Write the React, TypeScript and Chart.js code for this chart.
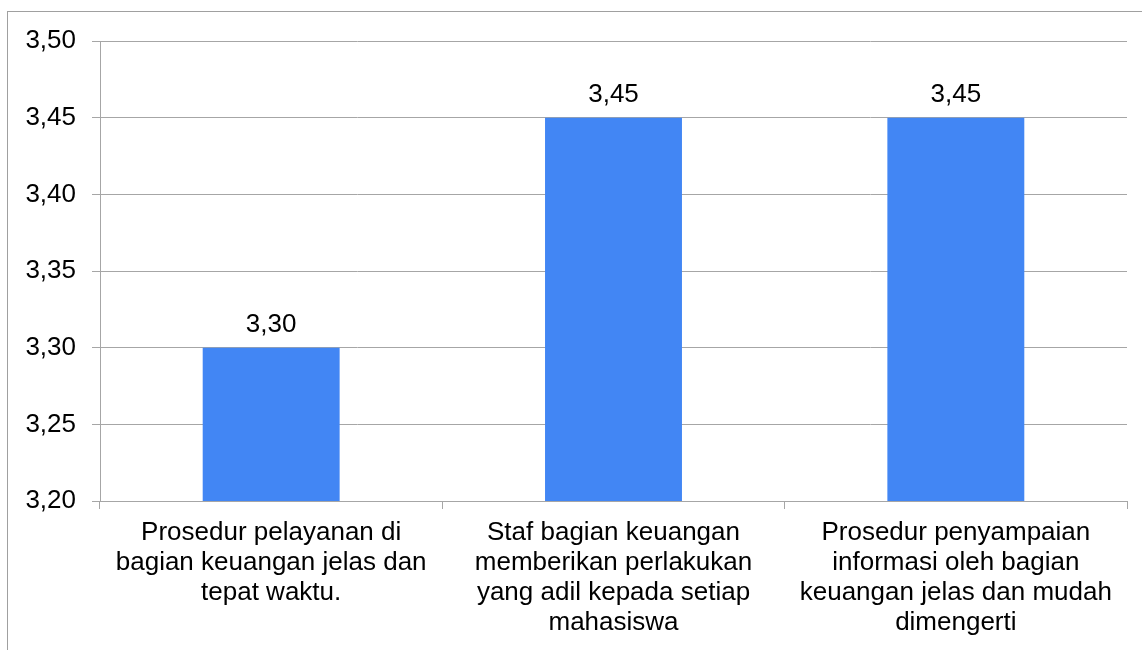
import React, { useEffect, useRef } from "react";
import { Chart, registerables } from "chart.js";

Chart.register(...registerables);

const categories: string[][] = [
  ["Prosedur pelayanan di", "bagian keuangan jelas dan", "tepat waktu."],
  ["Staf bagian keuangan", "memberikan perlakukan", "yang adil kepada setiap", "mahasiswa"],
  ["Prosedur penyampaian", "informasi oleh bagian", "keuangan jelas dan mudah", "dimengerti"],
];
const values: number[] = [3.3, 3.45, 3.45];
const yMin = 3.2;
const yMax = 3.5;
const yStep = 0.05;

const FONT = "'Liberation Sans', Arial, sans-serif";
const GRID = "#a6a6a6";
const BAR = "#4286f4";

const fmt = (v: number) => v.toFixed(2).replace(".", ",");

const framePlugin = {
  id: "frame",
  beforeDraw(chart: any) {
    const ctx = chart.ctx;
    ctx.save();
    ctx.fillStyle = "#ffffff";
    ctx.fillRect(0, 0, chart.width, chart.height);
    ctx.strokeStyle = "#a0a0a0";
    ctx.lineWidth = 1;
    ctx.strokeRect(7.5, 11.5, chart.width + 50, chart.height + 50);
    ctx.restore();
  },
};

const labelPlugin = {
  id: "valueLabels",
  afterDatasetsDraw(chart: any) {
    const ctx = chart.ctx;
    const meta = chart.getDatasetMeta(0);
    ctx.save();
    ctx.font = `26px ${FONT}`;
    ctx.fillStyle = "#000000";
    ctx.textAlign = "center";
    ctx.textBaseline = "alphabetic";
    meta.data.forEach((bar: any, i: number) => {
      ctx.fillText(fmt(values[i]), bar.x, bar.y - 16);
    });
    ctx.restore();
  },
};

export default function App() {
  const ref = useRef<HTMLCanvasElement | null>(null);

  useEffect(() => {
    if (!ref.current) return;
    const chart = new Chart(ref.current, {
      type: "bar",
      data: {
        labels: categories,
        datasets: [
          {
            data: values,
            backgroundColor: BAR,
            borderWidth: 0,
            barPercentage: 0.4,
            categoryPercentage: 1,
          },
        ],
      },
      options: {
        animation: false,
        responsive: false,
        maintainAspectRatio: false,
        layout: { padding: { left: 0, top: 41, right: 15, bottom: 0 } },
        plugins: {
          legend: { display: false },
          tooltip: { enabled: false },
        },
        scales: {
          x: {
            grid: {
              display: true,
              drawOnChartArea: false,
              drawTicks: true,
              tickLength: 8,
              color: GRID,
              offset: true,
            },
            border: { display: true, color: GRID },
            ticks: {
              color: "#000000",
              font: { family: FONT, size: 26, lineHeight: 1.15 },
              padding: 9,
              maxRotation: 0,
              autoSkip: false,
            },
            afterFit(scale: any) {
              scale.height = 149;
            },
          },
          y: {
            min: yMin,
            max: yMax,
            grid: {
              color: GRID,
              tickLength: 8,
              drawTicks: true,
            },
            border: { display: true, color: GRID },
            ticks: {
              stepSize: yStep,
              color: "#000000",
              font: { family: FONT, size: 26 },
              padding: 16,
              callback: (v: any) => fmt(Number(v)),
            },
            afterFit(scale: any) {
              scale.width = 100;
            },
          },
        },
      },
      plugins: [framePlugin, labelPlugin],
    });
    return () => chart.destroy();
  }, []);

  return (
    <div style={{ position: "fixed", left: 0, top: 0, width: 1142, height: 650, background: "#fff" }}>
      <canvas ref={ref} width={1142} height={650} style={{ display: "block", width: 1142, height: 650 }} />
    </div>
  );
}
